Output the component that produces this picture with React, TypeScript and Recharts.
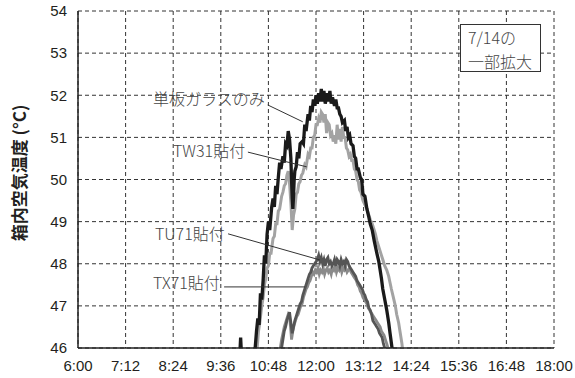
import { LineChart, Line, XAxis, YAxis, CartesianGrid, ReferenceLine } from "recharts";

// minutes since 0:00, temperature in °C (7/14 detail)
const singleGlass: [number, number][] = [
  [604, 45.6], [606, 46.25], [608, 45.6],
  [626, 45.7], [628, 46.0], [630, 46.4], [632, 46.7], [634, 46.55], [636, 47.3], [638, 47.15], [640, 47.6], [642, 48.2], [644, 48.0], [646, 48.7], [648, 49.0], [650, 48.8], [653, 49.35], [655, 49.55], [657, 49.35], [659, 49.85], [661, 49.65], [663, 50.05], [665, 50.4], [667, 50.25], [670, 50.55], [672, 50.4], [674, 50.85], [676, 50.8], [678, 51.15], [680, 50.95], [682, 50.5], [683, 50.0], [684, 49.55], [685, 49.3], [686, 49.6], [687, 50.0], [688, 50.2], [690, 50.3], [692, 50.65], [694, 50.5], [696, 50.85], [699, 50.9], [701, 50.85], [703, 51.3], [705, 51.15], [708, 51.55], [710, 51.4], [712, 51.75], [714, 51.6], [716, 51.9], [718, 51.75], [720, 52.0], [722, 51.8], [724, 52.05], [726, 51.85], [728, 52.15], [730, 51.85], [732, 52.1], [734, 51.8], [737, 52.05], [739, 51.85], [741, 52.1], [743, 51.8], [745, 51.95], [748, 51.75], [750, 51.9], [752, 51.7], [754, 51.7], [756, 51.55], [758, 51.5], [760, 51.35], [763, 51.4], [765, 51.15], [767, 51.25], [769, 51.0], [771, 51.05], [773, 50.85], [776, 50.8], [778, 50.55], [780, 50.5], [782, 50.25], [784, 50.25], [787, 50.05], [789, 50.0], [791, 49.65], [794, 49.6], [797, 49.3], [800, 49.1], [802, 48.95], [805, 48.8], [808, 48.55], [810, 48.4], [812, 48.25], [815, 48.05], [817, 47.85], [819, 47.65], [821, 47.4], [824, 47.15], [827, 46.9], [830, 46.6], [832, 46.35], [835, 46.0], [837, 45.7],
];

const tw31: [number, number][] = [
  [628, 45.7], [631, 46.0], [633, 46.4], [635, 46.6], [638, 47.0], [640, 47.2], [642, 47.5], [644, 47.65], [646, 47.9], [648, 47.95], [650, 48.25], [652, 48.25], [655, 48.6], [657, 48.65], [659, 48.95], [661, 48.95], [663, 49.25], [665, 49.3], [668, 49.6], [670, 49.7], [672, 49.85], [674, 49.9], [676, 50.1], [678, 50.2], [680, 49.9], [682, 49.45], [684, 48.8], [686, 49.15], [688, 49.3], [690, 49.65], [692, 49.7], [694, 49.9], [696, 49.95], [698, 50.1], [700, 50.15], [703, 50.35], [705, 50.3], [708, 50.6], [710, 50.55], [712, 50.75], [714, 50.75], [716, 51.0], [718, 51.05], [720, 51.3], [722, 51.3], [724, 51.45], [726, 51.35], [728, 51.6], [730, 51.55], [732, 51.35], [734, 51.55], [736, 51.1], [738, 51.35], [740, 51.3], [742, 51.05], [744, 51.1], [746, 50.9], [748, 51.05], [750, 50.85], [752, 51.3], [754, 50.95], [756, 51.2], [758, 50.9], [760, 51.25], [762, 51.0], [764, 51.0], [766, 50.75], [768, 50.7], [770, 50.55], [772, 50.6], [774, 50.45], [776, 50.45], [778, 50.25], [780, 50.2], [782, 50.0], [784, 49.95], [786, 49.75], [788, 49.7], [791, 49.5], [794, 49.4], [797, 49.3], [800, 49.15], [802, 49.05], [805, 48.95], [808, 48.8], [810, 48.7], [812, 48.55], [815, 48.4], [817, 48.3], [819, 48.2], [821, 48.1], [824, 47.95], [827, 47.85], [830, 47.7], [832, 47.55], [834, 47.4], [837, 47.2], [840, 47.0], [842, 46.8], [845, 46.6], [847, 46.4], [850, 46.1], [852, 45.8],
];

const tu71: [number, number][] = [
  [666, 45.7], [668, 46.0], [670, 46.2], [672, 46.4], [674, 46.5], [676, 46.65], [678, 46.75], [680, 46.85], [682, 46.6], [684, 46.35], [686, 46.5], [688, 46.65], [690, 46.75], [692, 46.85], [694, 46.95], [696, 47.05], [698, 47.1], [700, 47.25], [702, 47.35], [704, 47.45], [706, 47.55], [708, 47.65], [710, 47.75], [712, 47.8], [714, 47.9], [716, 47.95], [718, 48.0], [720, 48.05], [722, 48.1], [724, 48.2], [726, 48.05], [728, 48.15], [730, 48.0], [732, 48.1], [734, 47.95], [736, 48.1], [738, 48.15], [740, 48.0], [742, 48.05], [744, 47.95], [746, 48.0], [748, 48.1], [750, 47.95], [752, 48.1], [754, 48.05], [756, 47.95], [758, 48.1], [760, 48.0], [762, 48.05], [764, 47.95], [766, 48.1], [768, 48.05], [770, 47.95], [772, 47.9], [774, 47.85], [776, 47.8], [778, 47.75], [780, 47.7], [782, 47.6], [784, 47.55], [786, 47.5], [788, 47.45], [790, 47.4], [792, 47.3], [794, 47.25], [796, 47.15], [798, 47.1], [800, 46.95], [802, 46.9], [804, 46.8], [806, 46.65], [808, 46.6], [810, 46.55], [812, 46.5], [814, 46.45], [816, 46.35], [818, 46.3], [820, 46.25], [822, 46.1], [824, 46.0], [826, 45.8],
];

const tx71: [number, number][] = [
  [663, 45.7], [666, 46.0], [668, 46.2], [670, 46.35], [672, 46.5], [674, 46.6], [676, 46.7], [678, 46.8], [680, 46.75], [682, 46.4], [683, 46.2], [685, 46.4], [687, 46.55], [689, 46.65], [691, 46.75], [693, 46.8], [695, 46.9], [697, 47.0], [699, 47.05], [701, 47.2], [703, 47.3], [705, 47.4], [707, 47.45], [709, 47.55], [711, 47.6], [713, 47.7], [715, 47.8], [717, 47.75], [719, 47.85], [721, 47.8], [723, 47.9], [725, 47.75], [727, 47.85], [729, 47.8], [731, 47.9], [733, 47.75], [735, 47.85], [737, 47.9], [739, 47.8], [741, 47.85], [743, 47.75], [745, 47.9], [747, 47.85], [749, 47.95], [751, 47.8], [753, 47.9], [755, 47.85], [757, 47.95], [759, 47.8], [761, 47.9], [763, 47.85], [765, 47.9], [767, 47.8], [769, 47.85], [771, 47.9], [773, 47.8], [775, 47.75], [777, 47.7], [779, 47.65], [781, 47.6], [783, 47.5], [785, 47.45], [787, 47.35], [789, 47.3], [791, 47.2], [793, 47.15], [795, 47.1], [797, 47.05], [799, 46.95], [801, 46.9], [803, 46.85], [805, 46.8], [807, 46.75], [809, 46.7], [811, 46.65], [813, 46.6], [815, 46.55], [817, 46.5], [819, 46.4], [821, 46.35], [823, 46.3], [825, 46.2], [827, 46.1], [829, 46.0], [831, 45.8],
];

const xTicks = [360, 432, 504, 576, 648, 720, 792, 864, 936, 1008, 1080];
const yTicks = [46, 47, 48, 49, 50, 51, 52, 53, 54];

const toRows = (pts: [number, number][]) => pts.map(([t, v]) => ({ t, v }));
const fmtTime = (m: number) => `${Math.floor(m / 60)}:${String(m % 60).padStart(2, "0")}`;

const tickStyle = { fontSize: 15, fill: "#231f20", fontFamily: "'Liberation Sans', Arial, sans-serif" };
const labelFont = "'Noto Sans CJK JP', 'Noto Sans', sans-serif";
const noteStyle = { position: "absolute" as const, fontFamily: labelFont, fontSize: 16, color: "#444", lineHeight: "22px", whiteSpace: "nowrap" as const, fontWeight: 300 };

export default function App() {
  return (
    <div style={{ position: "absolute", left: 0, top: 0, width: 575, height: 378, background: "#fff" }}>
      <LineChart width={575} height={378} margin={{ top: 11, right: 21, bottom: 0, left: 30 }}>
        <CartesianGrid stroke="#333" strokeDasharray="4 3" />
        <XAxis
          type="number"
          dataKey="t"
          domain={[360, 1080]}
          ticks={xTicks}
          tickFormatter={fmtTime}
          allowDataOverflow
          height={30}
          tickLine={false}
          tickMargin={6}
          axisLine={{ stroke: "#222", strokeWidth: 1.5 }}
          tick={tickStyle}
          interval={0}
        />
        <YAxis
          type="number"
          domain={[46, 54]}
          ticks={yTicks}
          allowDataOverflow
          width={48}
          tickLine={false}
          tickMargin={5}
          axisLine={{ stroke: "#222", strokeWidth: 1.5 }}
          tick={tickStyle}
          interval={0}
        />
        <Line data={toRows(tw31)} dataKey="v" stroke="#a3a3a3" strokeWidth={3} dot={false} isAnimationActive={false} />
        <Line data={toRows(singleGlass)} dataKey="v" stroke="#1a1a1a" strokeWidth={3.3} dot={false} isAnimationActive={false} />
        <Line data={toRows(tx71)} dataKey="v" stroke="#8a8a8a" strokeWidth={2.8} dot={false} isAnimationActive={false} />
        <Line data={toRows(tu71)} dataKey="v" stroke="#555" strokeWidth={2.8} dot={false} isAnimationActive={false} />
        <ReferenceLine segment={[{ x: 647, y: 51.77 }, { x: 700, y: 51.37 }]} stroke="#333" ifOverflow="visible" />
        <ReferenceLine segment={[{ x: 617, y: 50.65 }, { x: 706, y: 50.3 }]} stroke="#333" ifOverflow="visible" />
        <ReferenceLine segment={[{ x: 587, y: 48.71 }, { x: 726, y: 48.09 }]} stroke="#333" ifOverflow="visible" />
        <ReferenceLine segment={[{ x: 581, y: 47.45 }, { x: 703, y: 47.45 }]} stroke="#333" ifOverflow="visible" />
      </LineChart>

      <div style={{ ...noteStyle, left: 153, top: 87 }}>単板ガラスのみ</div>
      <div style={{ ...noteStyle, left: 173, top: 139 }}>TW31貼付</div>
      <div style={{ ...noteStyle, left: 155, top: 222 }}>TU71貼付</div>
      <div style={{ ...noteStyle, left: 153, top: 271 }}>TX71貼付</div>

      <div style={{ position: "absolute", left: 460, top: 24, width: 81, height: 48, border: "1px solid #333", background: "#fff", fontFamily: labelFont, fontSize: 16, color: "#444", lineHeight: "24px", paddingLeft: 7, boxSizing: "border-box", fontWeight: 300 }}>
        7/14の<br />一部拡大
      </div>

      <div style={{ position: "absolute", left: 18, top: 173, transform: "translate(-50%, -50%) rotate(-90deg)", fontFamily: labelFont, fontSize: 17, fontWeight: 700, color: "#231f20", whiteSpace: "nowrap" }}>
        箱内空気温度 (°C)
      </div>
    </div>
  );
}
